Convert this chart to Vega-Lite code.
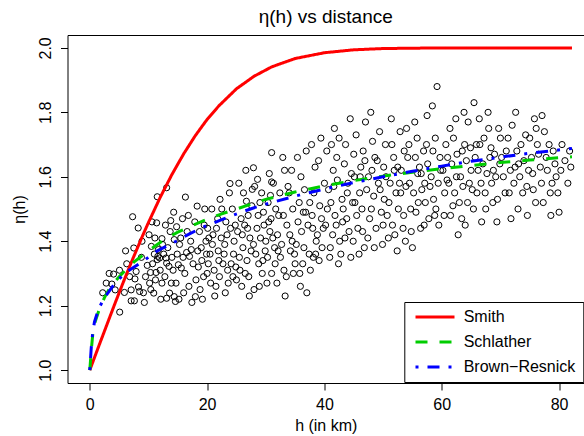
{
"$schema": "https://vega.github.io/schema/vega-lite/v6.json",
"width": 516.5, "height": 348,
"autosize": "none",
"padding": {"left": 67.5, "top": 35, "right": 0, "bottom": 53},
"background": "white",
"config": {"font": "Liberation Sans", "view": {"stroke": null},
  "axis": {"grid": false, "domainColor": "black", "tickColor": "black", "labelColor": "black", "titleColor": "black", "labelFontSize": 16, "titleFontSize": 16, "titleFontWeight": "normal", "tickSize": 7, "domainWidth": 1, "tickWidth": 1, "labelFont": "Liberation Sans", "titleFont": "Liberation Sans"}},
"title": {"text": "η(h) vs distance", "fontSize": 19, "fontWeight": "normal", "font": "Liberation Sans", "color": "black", "offset": 8},
"datasets": {
"pts": [
{"h":4.05,"eta":1.298},{"h":5.06,"eta":1.31},{"h":3.76,"eta":1.267},{"h":4.33,"eta":1.249},{"h":5.1,"eta":1.18},{"h":5.9,"eta":1.241},{"h":7.05,"eta":1.249},{"h":7.05,"eta":1.215},{"h":7.6,"eta":1.215},{"h":7.5,"eta":1.379},{"h":7.7,"eta":1.283},{"h":7.9,"eta":1.306},{"h":8.3,"eta":1.258},{"h":8.5,"eta":1.244},{"h":9.3,"eta":1.21},{"h":9.15,"eta":1.24},{"h":10.2,"eta":1.27},{"h":9.8,"eta":1.325},{"h":10.35,"eta":1.303},{"h":10.5,"eta":1.384},{"h":10.9,"eta":1.239},{"h":11.3,"eta":1.303},{"h":11.5,"eta":1.343},{"h":11.6,"eta":1.353},{"h":12.3,"eta":1.408},{"h":13.0,"eta":1.348},{"h":13.1,"eta":1.332},{"h":13.5,"eta":1.322},{"h":14.4,"eta":1.405},{"h":13.9,"eta":1.27},{"h":13.6,"eta":1.239},{"h":13.1,"eta":1.223},{"h":14.4,"eta":1.228},{"h":15.2,"eta":1.22},{"h":14.6,"eta":1.213},{"h":12.4,"eta":1.39},{"h":11.7,"eta":1.374},{"h":15.3,"eta":1.39},{"h":16.5,"eta":1.365},{"h":17.0,"eta":1.353},{"h":18.0,"eta":1.228},{"h":17.3,"eta":1.374},{"h":18.1,"eta":1.28},{"h":11.2,"eta":1.28},{"h":11.9,"eta":1.348},{"h":15.1,"eta":1.327},{"h":15.6,"eta":1.317},{"h":12.3,"eta":1.27},{"h":31.0,"eta":1.675},{"h":27.9,"eta":1.628},{"h":30.6,"eta":1.61},{"h":28.6,"eta":1.592},{"h":27.7,"eta":1.561},{"h":23.9,"eta":1.579},{"h":31.0,"eta":1.584},{"h":13.1,"eta":1.566},{"h":11.5,"eta":1.538},{"h":16.3,"eta":1.537},{"h":7.3,"eta":1.476},{"h":8.25,"eta":1.441},{"h":11.4,"eta":1.457},{"h":18.3,"eta":1.509},{"h":13.8,"eta":1.464},{"h":14.8,"eta":1.445},{"h":10.1,"eta":1.42},{"h":26.7,"eta":1.524},{"h":30.8,"eta":1.542},
{"h":18.5,"eta":1.32},{"h":19,"eta":1.38},{"h":19.5,"eta":1.45},{"h":20,"eta":1.30},{"h":20.5,"eta":1.36},{"h":21,"eta":1.42},{"h":21.5,"eta":1.26},{"h":22,"eta":1.34},{"h":22.5,"eta":1.50},{"h":23,"eta":1.39},{"h":23.5,"eta":1.31},{"h":24,"eta":1.44},{"h":24.5,"eta":1.36},{"h":25,"eta":1.28},{"h":19.2,"eta":1.22},{"h":21.8,"eta":1.47},{"h":23.8,"eta":1.55},{"h":24.6,"eta":1.40},{"h":20.3,"eta":1.41},{"h":22.7,"eta":1.33},
{"h":25.5,"eta":1.35},{"h":26,"eta":1.42},{"h":26.5,"eta":1.30},{"h":27,"eta":1.48},{"h":27.5,"eta":1.37},{"h":28,"eta":1.25},{"h":28.5,"eta":1.44},{"h":29,"eta":1.52},{"h":29.5,"eta":1.34},{"h":30,"eta":1.40},{"h":30.5,"eta":1.46},{"h":31,"eta":1.30},{"h":31.5,"eta":1.38},{"h":26.2,"eta":1.55},{"h":28.8,"eta":1.33},{"h":30.2,"eta":1.27},{"h":27.3,"eta":1.41},{"h":29.7,"eta":1.45},{"h":25.8,"eta":1.47},{"h":31.7,"eta":1.50},
{"h":32,"eta":1.42},{"h":32.5,"eta":1.35},{"h":33,"eta":1.48},{"h":33.5,"eta":1.29},{"h":34,"eta":1.55},{"h":34.5,"eta":1.40},{"h":35,"eta":1.33},{"h":35.5,"eta":1.46},{"h":36,"eta":1.60},{"h":36.5,"eta":1.38},{"h":37,"eta":1.24},{"h":37.5,"eta":1.52},{"h":38,"eta":1.44},{"h":38.5,"eta":1.36},{"h":39,"eta":1.65},{"h":39.5,"eta":1.47},{"h":40,"eta":1.58},{"h":33.2,"eta":1.62},{"h":35.8,"eta":1.30},{"h":37.8,"eta":1.70},{"h":38.8,"eta":1.42},{"h":34.2,"eta":1.37},{"h":36.8,"eta":1.49},
{"h":40.5,"eta":1.50},{"h":41,"eta":1.38},{"h":41.5,"eta":1.62},{"h":42,"eta":1.45},{"h":42.5,"eta":1.72},{"h":43,"eta":1.53},{"h":43.5,"eta":1.41},{"h":44,"eta":1.58},{"h":44.5,"eta":1.35},{"h":45,"eta":1.67},{"h":45.5,"eta":1.48},{"h":46,"eta":1.55},{"h":46.5,"eta":1.43},{"h":47,"eta":1.77},{"h":47.5,"eta":1.60},{"h":48,"eta":1.50},{"h":48.5,"eta":1.38},{"h":49,"eta":1.65},{"h":49.5,"eta":1.56},{"h":50,"eta":1.45},{"h":41.2,"eta":1.70},{"h":43.8,"eta":1.47},{"h":46.2,"eta":1.63},{"h":48.2,"eta":1.71},{"h":44.8,"eta":1.52},{"h":42.8,"eta":1.36},
{"h":50.5,"eta":1.60},{"h":51,"eta":1.52},{"h":51.5,"eta":1.70},{"h":52,"eta":1.42},{"h":52.5,"eta":1.63},{"h":53,"eta":1.55},{"h":53.5,"eta":1.48},{"h":54,"eta":1.75},{"h":54.5,"eta":1.58},{"h":55,"eta":1.38},{"h":55.5,"eta":1.66},{"h":56,"eta":1.52},{"h":56.5,"eta":1.61},{"h":57,"eta":1.45},{"h":57.5,"eta":1.79},{"h":58,"eta":1.57},{"h":58.5,"eta":1.68},{"h":59,"eta":1.50},{"h":59.2,"eta":1.88},{"h":59.8,"eta":1.62},{"h":51.8,"eta":1.66},{"h":53.8,"eta":1.40},{"h":55.8,"eta":1.72},{"h":57.8,"eta":1.47},{"h":52.8,"eta":1.58},
{"h":60.5,"eta":1.55},{"h":61,"eta":1.66},{"h":61.5,"eta":1.48},{"h":62,"eta":1.72},{"h":62.5,"eta":1.60},{"h":63,"eta":1.52},{"h":63.5,"eta":1.68},{"h":64,"eta":1.45},{"h":64.5,"eta":1.77},{"h":65,"eta":1.62},{"h":65.5,"eta":1.83},{"h":66,"eta":1.55},{"h":66.5,"eta":1.70},{"h":67,"eta":1.64},{"h":67.5,"eta":1.50},{"h":68,"eta":1.75},{"h":68.5,"eta":1.58},{"h":69,"eta":1.67},{"h":69.5,"eta":1.53},{"h":70,"eta":1.72},{"h":62.8,"eta":1.42},{"h":66.8,"eta":1.46},{"h":63.8,"eta":1.80},{"h":68.8,"eta":1.62},
{"h":70.5,"eta":1.60},{"h":71,"eta":1.68},{"h":71.5,"eta":1.55},{"h":72,"eta":1.76},{"h":72.5,"eta":1.63},{"h":73,"eta":1.50},{"h":73.5,"eta":1.70},{"h":74,"eta":1.65},{"h":74.5,"eta":1.57},{"h":75,"eta":1.72},{"h":75.5,"eta":1.61},{"h":76,"eta":1.52},{"h":76.5,"eta":1.67},{"h":77,"eta":1.58},{"h":77.5,"eta":1.74},{"h":78,"eta":1.62},{"h":78.5,"eta":1.55},{"h":79,"eta":1.68},{"h":79.5,"eta":1.60},{"h":80,"eta":1.49},{"h":81,"eta":1.65},{"h":82,"eta":1.63},{"h":71.8,"eta":1.47},{"h":75.8,"eta":1.78},
{"h":2.8,"eta":1.27},{"h":3.3,"eta":1.30},{"h":2.2,"eta":1.24},
{"h":6.3,"eta":1.33},{"h":6.8,"eta":1.29},{"h":8.8,"eta":1.35},{"h":9.5,"eta":1.29},{"h":6.1,"eta":1.37},{"h":8.9,"eta":1.40},
{"h":10.7,"eta":1.33},{"h":11.0,"eta":1.36},{"h":12.0,"eta":1.31},{"h":12.6,"eta":1.36},{"h":12.8,"eta":1.29},{"h":13.3,"eta":1.38},{"h":14.0,"eta":1.35},{"h":14.2,"eta":1.31},{"h":14.9,"eta":1.36},{"h":10.4,"eta":1.25},{"h":12.1,"eta":1.22},{"h":13.7,"eta":1.43},{"h":14.7,"eta":1.27},{"h":11.1,"eta":1.41},{"h":12.9,"eta":1.45},{"h":14.3,"eta":1.49},{"h":10.6,"eta":1.46},
{"h":15.5,"eta":1.41},{"h":15.9,"eta":1.35},{"h":16.2,"eta":1.30},{"h":16.6,"eta":1.43},{"h":16.9,"eta":1.26},{"h":17.2,"eta":1.40},{"h":17.6,"eta":1.33},{"h":17.9,"eta":1.46},{"h":18.4,"eta":1.37},{"h":18.8,"eta":1.25},{"h":19.1,"eta":1.34},{"h":19.4,"eta":1.29},{"h":19.8,"eta":1.40},{"h":16.0,"eta":1.24},{"h":17.4,"eta":1.21},{"h":18.7,"eta":1.43},{"h":15.8,"eta":1.47},{"h":19.6,"eta":1.50},{"h":16.8,"eta":1.48},{"h":19.9,"eta":1.36},
{"h":20.2,"eta":1.33},{"h":20.6,"eta":1.27},{"h":20.9,"eta":1.39},{"h":21.2,"eta":1.31},{"h":21.6,"eta":1.44},{"h":22.1,"eta":1.29},{"h":22.4,"eta":1.41},{"h":22.9,"eta":1.36},{"h":23.2,"eta":1.46},{"h":23.6,"eta":1.27},{"h":24.1,"eta":1.33},{"h":24.3,"eta":1.50},{"h":24.8,"eta":1.45},{"h":20.8,"eta":1.50},{"h":21.3,"eta":1.23},{"h":22.2,"eta":1.53},{"h":23.4,"eta":1.42},{"h":24.9,"eta":1.32},{"h":21.9,"eta":1.37},{"h":23.1,"eta":1.24},{"h":20.1,"eta":1.44},{"h":24.4,"eta":1.29},
{"h":25.2,"eta":1.43},{"h":25.6,"eta":1.31},{"h":26.1,"eta":1.38},{"h":26.4,"eta":1.45},{"h":26.8,"eta":1.34},{"h":27.1,"eta":1.29},{"h":27.6,"eta":1.51},{"h":27.9,"eta":1.39},{"h":28.3,"eta":1.36},{"h":28.7,"eta":1.48},{"h":29.1,"eta":1.41},{"h":29.4,"eta":1.30},{"h":29.9,"eta":1.37},{"h":25.4,"eta":1.58},{"h":26.6,"eta":1.62},{"h":28.1,"eta":1.57},{"h":29.3,"eta":1.55},{"h":27.2,"eta":1.23},{"h":28.9,"eta":1.26},{"h":25.9,"eta":1.26},{"h":26.9,"eta":1.44},{"h":29.6,"eta":1.49},
{"h":30.3,"eta":1.35},{"h":30.7,"eta":1.43},{"h":31.2,"eta":1.41},{"h":31.6,"eta":1.33},{"h":32.2,"eta":1.48},{"h":32.7,"eta":1.39},{"h":33.1,"eta":1.31},{"h":33.6,"eta":1.45},{"h":34.1,"eta":1.42},{"h":34.6,"eta":1.50},{"h":34.9,"eta":1.36},{"h":30.4,"eta":1.52},{"h":31.3,"eta":1.58},{"h":32.4,"eta":1.55},{"h":33.8,"eta":1.57},{"h":32.9,"eta":1.66},{"h":34.4,"eta":1.62},{"h":31.9,"eta":1.27},{"h":33.3,"eta":1.23},{"h":34.7,"eta":1.30},{"h":30.9,"eta":1.47},{"h":32.1,"eta":1.37},
{"h":35.2,"eta":1.39},{"h":35.7,"eta":1.52},{"h":36.1,"eta":1.43},{"h":36.3,"eta":1.33},{"h":36.6,"eta":1.56},{"h":37.2,"eta":1.45},{"h":37.4,"eta":1.36},{"h":37.9,"eta":1.48},{"h":38.2,"eta":1.55},{"h":38.6,"eta":1.40},{"h":39.2,"eta":1.51},{"h":39.6,"eta":1.38},{"h":39.8,"eta":1.44},{"h":35.4,"eta":1.66},{"h":36.9,"eta":1.68},{"h":38.4,"eta":1.63},{"h":39.4,"eta":1.72},{"h":35.9,"eta":1.26},{"h":37.6,"eta":1.31},{"h":39.1,"eta":1.34},{"h":36.4,"eta":1.49},{"h":38.1,"eta":1.35},
{"h":40.2,"eta":1.45},{"h":40.7,"eta":1.56},{"h":41.1,"eta":1.52},{"h":41.4,"eta":1.42},{"h":41.8,"eta":1.48},{"h":42.2,"eta":1.59},{"h":42.6,"eta":1.40},{"h":43.1,"eta":1.46},{"h":43.4,"eta":1.64},{"h":43.9,"eta":1.55},{"h":44.2,"eta":1.43},{"h":44.6,"eta":1.61},{"h":40.4,"eta":1.68},{"h":41.7,"eta":1.75},{"h":43.6,"eta":1.70},{"h":44.4,"eta":1.78},{"h":40.9,"eta":1.35},{"h":42.4,"eta":1.33},{"h":44.9,"eta":1.40},{"h":41.6,"eta":1.57},{"h":43.2,"eta":1.50},{"h":42.1,"eta":1.66},
{"h":45.2,"eta":1.52},{"h":45.7,"eta":1.44},{"h":46.1,"eta":1.60},{"h":46.4,"eta":1.50},{"h":46.8,"eta":1.38},{"h":47.2,"eta":1.56},{"h":47.7,"eta":1.47},{"h":48.1,"eta":1.62},{"h":48.4,"eta":1.54},{"h":48.8,"eta":1.44},{"h":49.2,"eta":1.58},{"h":49.7,"eta":1.49},{"h":45.4,"eta":1.73},{"h":46.6,"eta":1.68},{"h":47.9,"eta":1.80},{"h":49.4,"eta":1.74},{"h":45.9,"eta":1.36},{"h":47.4,"eta":1.41},{"h":49.9,"eta":1.39},{"h":46.9,"eta":1.65},{"h":48.6,"eta":1.66},{"h":45.1,"eta":1.60},
{"h":50.2,"eta":1.53},{"h":50.7,"eta":1.48},{"h":51.2,"eta":1.58},{"h":51.6,"eta":1.45},{"h":52.2,"eta":1.55},{"h":52.6,"eta":1.50},{"h":53.1,"eta":1.62},{"h":53.4,"eta":1.44},{"h":53.9,"eta":1.57},{"h":54.2,"eta":1.66},{"h":54.7,"eta":1.50},{"h":50.4,"eta":1.70},{"h":51.4,"eta":1.78},{"h":52.9,"eta":1.74},{"h":54.4,"eta":1.70},{"h":50.9,"eta":1.41},{"h":52.4,"eta":1.37},{"h":54.8,"eta":1.43},{"h":51.9,"eta":1.62},{"h":53.6,"eta":1.68},{"h":50.1,"eta":1.63},
{"h":55.2,"eta":1.55},{"h":55.6,"eta":1.49},{"h":56.2,"eta":1.63},{"h":56.6,"eta":1.56},{"h":56.9,"eta":1.68},{"h":57.2,"eta":1.52},{"h":57.6,"eta":1.64},{"h":58.2,"eta":1.60},{"h":58.6,"eta":1.53},{"h":58.9,"eta":1.72},{"h":59.4,"eta":1.58},{"h":59.7,"eta":1.66},{"h":55.4,"eta":1.77},{"h":56.4,"eta":1.44},{"h":57.4,"eta":1.70},{"h":58.4,"eta":1.82},{"h":59.5,"eta":1.45},{"h":55.9,"eta":1.61},{"h":57.1,"eta":1.58},{"h":58.8,"eta":1.48},
{"h":60.2,"eta":1.62},{"h":60.7,"eta":1.70},{"h":61.2,"eta":1.58},{"h":61.7,"eta":1.64},{"h":62.2,"eta":1.55},{"h":62.6,"eta":1.67},{"h":63.2,"eta":1.60},{"h":63.6,"eta":1.57},{"h":64.2,"eta":1.65},{"h":64.7,"eta":1.58},{"h":60.4,"eta":1.48},{"h":61.4,"eta":1.75},{"h":62.4,"eta":1.78},{"h":63.4,"eta":1.47},{"h":64.4,"eta":1.52},{"h":60.9,"eta":1.59},{"h":61.9,"eta":1.51},{"h":63.9,"eta":1.70},{"h":64.9,"eta":1.69},
{"h":65.2,"eta":1.56},{"h":65.7,"eta":1.66},{"h":66.2,"eta":1.62},{"h":66.7,"eta":1.58},{"h":67.2,"eta":1.72},{"h":67.7,"eta":1.61},{"h":68.2,"eta":1.66},{"h":68.7,"eta":1.52},{"h":69.2,"eta":1.60},{"h":69.7,"eta":1.75},{"h":65.4,"eta":1.50},{"h":66.4,"eta":1.78},{"h":67.4,"eta":1.55},{"h":68.4,"eta":1.69},{"h":69.4,"eta":1.46},{"h":65.9,"eta":1.70},{"h":67.9,"eta":1.80},{"h":69.9,"eta":1.64},
{"h":70.2,"eta":1.66},{"h":70.8,"eta":1.55},{"h":71.3,"eta":1.72},{"h":71.7,"eta":1.62},{"h":72.3,"eta":1.58},{"h":72.8,"eta":1.68},{"h":73.3,"eta":1.60},{"h":73.8,"eta":1.55},{"h":74.3,"eta":1.73},{"h":74.8,"eta":1.62},{"h":75.3,"eta":1.66},{"h":75.6,"eta":1.56},{"h":76.3,"eta":1.70},{"h":76.8,"eta":1.63},{"h":77.3,"eta":1.52},{"h":77.8,"eta":1.66},{"h":78.3,"eta":1.70},{"h":78.8,"eta":1.58},{"h":79.3,"eta":1.64},{"h":79.8,"eta":1.55},{"h":80.5,"eta":1.70},{"h":81.5,"eta":1.58},{"h":72.6,"eta":1.80},{"h":74.6,"eta":1.48},{"h":76.1,"eta":1.75},{"h":78.6,"eta":1.48},{"h":80.3,"eta":1.62},{"h":81.8,"eta":1.68},{"h":73.1,"eta":1.64},{"h":77.1,"eta":1.79}
],
"curves": [
{"h":0,"eta":1.0,"m":"Smith"},{"h":1,"eta":1.0486,"m":"Smith"},{"h":2,"eta":1.097,"m":"Smith"},{"h":3,"eta":1.145,"m":"Smith"},{"h":4,"eta":1.193,"m":"Smith"},{"h":5,"eta":1.24,"m":"Smith"},{"h":6,"eta":1.286,"m":"Smith"},{"h":7,"eta":1.331,"m":"Smith"},{"h":8,"eta":1.374,"m":"Smith"},{"h":9,"eta":1.417,"m":"Smith"},{"h":10,"eta":1.458,"m":"Smith"},{"h":12,"eta":1.536,"m":"Smith"},{"h":14,"eta":1.607,"m":"Smith"},{"h":16,"eta":1.671,"m":"Smith"},{"h":18,"eta":1.728,"m":"Smith"},{"h":20,"eta":1.778,"m":"Smith"},{"h":22,"eta":1.82,"m":"Smith"},{"h":25,"eta":1.873,"m":"Smith"},{"h":28,"eta":1.912,"m":"Smith"},{"h":31,"eta":1.941,"m":"Smith"},{"h":35,"eta":1.967,"m":"Smith"},{"h":40,"eta":1.985,"m":"Smith"},{"h":45,"eta":1.994,"m":"Smith"},{"h":50,"eta":1.998,"m":"Smith"},{"h":60,"eta":2.0,"m":"Smith"},{"h":82.2,"eta":2.0,"m":"Smith"},
{"h":0,"eta":1.0,"m":"Schlather"},{"h":0.25,"eta":1.06,"m":"Schlather"},{"h":0.6,"eta":1.13,"m":"Schlather"},{"h":1,"eta":1.155,"m":"Schlather"},{"h":1.65,"eta":1.19,"m":"Schlather"},{"h":2.5,"eta":1.225,"m":"Schlather"},{"h":3.4,"eta":1.255,"m":"Schlather"},{"h":5,"eta":1.29,"m":"Schlather"},{"h":7.5,"eta":1.335,"m":"Schlather"},{"h":10,"eta":1.37,"m":"Schlather"},{"h":12.5,"eta":1.403,"m":"Schlather"},{"h":15,"eta":1.428,"m":"Schlather"},{"h":17.5,"eta":1.449,"m":"Schlather"},{"h":20,"eta":1.468,"m":"Schlather"},{"h":22.5,"eta":1.485,"m":"Schlather"},{"h":25,"eta":1.5,"m":"Schlather"},{"h":30,"eta":1.53,"m":"Schlather"},{"h":35,"eta":1.553,"m":"Schlather"},{"h":40,"eta":1.572,"m":"Schlather"},{"h":45,"eta":1.588,"m":"Schlather"},{"h":50,"eta":1.602,"m":"Schlather"},{"h":55,"eta":1.614,"m":"Schlather"},{"h":60,"eta":1.625,"m":"Schlather"},{"h":65,"eta":1.635,"m":"Schlather"},{"h":70,"eta":1.644,"m":"Schlather"},{"h":75,"eta":1.652,"m":"Schlather"},{"h":82.2,"eta":1.662,"m":"Schlather"},
{"h":0,"eta":1.0,"m":"Brown−Resnick"},{"h":0.25,"eta":1.07,"m":"Brown−Resnick"},{"h":0.5,"eta":1.115,"m":"Brown−Resnick"},{"h":0.8,"eta":1.15,"m":"Brown−Resnick"},{"h":1.5,"eta":1.19,"m":"Brown−Resnick"},{"h":2.5,"eta":1.225,"m":"Brown−Resnick"},{"h":4.5,"eta":1.275,"m":"Brown−Resnick"},{"h":6.5,"eta":1.307,"m":"Brown−Resnick"},{"h":9,"eta":1.337,"m":"Brown−Resnick"},{"h":11.5,"eta":1.37,"m":"Brown−Resnick"},{"h":14.7,"eta":1.4,"m":"Brown−Resnick"},{"h":17,"eta":1.423,"m":"Brown−Resnick"},{"h":19.6,"eta":1.446,"m":"Brown−Resnick"},{"h":22.5,"eta":1.467,"m":"Brown−Resnick"},{"h":25.5,"eta":1.488,"m":"Brown−Resnick"},{"h":28.5,"eta":1.507,"m":"Brown−Resnick"},{"h":31.8,"eta":1.524,"m":"Brown−Resnick"},{"h":35,"eta":1.54,"m":"Brown−Resnick"},{"h":40,"eta":1.562,"m":"Brown−Resnick"},{"h":45,"eta":1.582,"m":"Brown−Resnick"},{"h":50,"eta":1.6,"m":"Brown−Resnick"},{"h":55,"eta":1.617,"m":"Brown−Resnick"},{"h":60,"eta":1.633,"m":"Brown−Resnick"},{"h":65,"eta":1.648,"m":"Brown−Resnick"},{"h":70,"eta":1.661,"m":"Brown−Resnick"},{"h":75,"eta":1.673,"m":"Brown−Resnick"},{"h":82.2,"eta":1.688,"m":"Brown−Resnick"}
]
},
"layer": [
{"data": {"name": "pts"},
 "mark": {"type": "point", "shape": "circle", "filled": false, "stroke": "black", "strokeWidth": 1, "size": 38, "opacity": 1},
 "encoding": {
  "x": {"field": "h", "type": "quantitative", "scale": {"domain": [-3.8, 84.25], "nice": false, "zero": false},
        "axis": {"values": [0, 20, 40, 60, 80], "labelPadding": 6, "title": "h (in km)", "titlePadding": 5}},
  "y": {"field": "eta", "type": "quantitative", "scale": {"domain": [0.96, 2.04], "nice": false, "zero": false},
        "axis": {"values": [1.0, 1.2, 1.4, 1.6, 1.8, 2.0], "format": ".1f", "labelAngle": -90, "labelAlign": "center", "labelBaseline": "alphabetic", "labelPadding": 10, "title": "η(h)", "titlePadding": 10}}
 }},
{"data": {"name": "curves"},
 "mark": {"type": "line", "strokeWidth": 3, "strokeCap": "butt"},
 "encoding": {
  "x": {"field": "h", "type": "quantitative", "axis": null},
  "y": {"field": "eta", "type": "quantitative"},
  "color": {"field": "m", "type": "nominal", "scale": {"domain": ["Smith", "Schlather", "Brown−Resnick"], "range": ["#FF0000", "#00CD00", "#0000FF"]},
     "legend": {"title": null, "orient": "none", "legendX": 336.8, "legendY": 267, "direction": "vertical", "padding": 7, "strokeColor": "black", "fillColor": "white", "cornerRadius": 0, "symbolType": "M-3.25,0H3.25", "symbolSize": 144, "symbolStrokeWidth": 3, "symbolOffset": 15.7, "labelOffset": 20.7, "labelFontSize": 16, "labelFont": "Liberation Sans", "labelColor": "black", "rowPadding": 9, "labelLimit": 300}},
  "strokeDash": {"field": "m", "type": "nominal", "scale": {"domain": ["Smith", "Schlather", "Brown−Resnick"], "range": [[1, 0], [12, 12], [3, 9, 12, 9]]},
     "legend": {"title": null, "orient": "none", "legendX": 336.8, "legendY": 267, "direction": "vertical", "padding": 7, "strokeColor": "black", "fillColor": "white", "cornerRadius": 0, "symbolType": "M-3.25,0H3.25", "symbolSize": 144, "symbolStrokeWidth": 3, "symbolOffset": 15.7, "labelOffset": 20.7, "labelFontSize": 16, "labelFont": "Liberation Sans", "labelColor": "black", "rowPadding": 9, "labelLimit": 300}}
 }},
{"data": {"name": "pts"},
 "mark": {"type": "point", "opacity": 0},
 "encoding": {
  "x": {"field": "h", "type": "quantitative", "axis": {"orient": "top", "labels": false, "ticks": false, "title": null, "domain": true}}
 }}
],
"resolve": {"axis": {"x": "independent"}}
}
